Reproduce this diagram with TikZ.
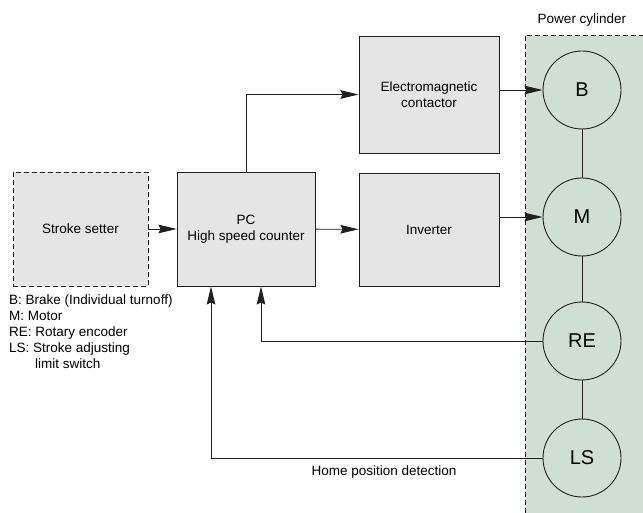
\documentclass[tikz,border=0pt]{standalone}
\usepackage{fontspec}
\setmainfont{Liberation Sans}
\usepackage{tikz}
\usetikzlibrary{arrows.meta,positioning}
\definecolor{cajagris}{RGB}{229,229,229}
\definecolor{cilverde}{RGB}{207,223,210}
\definecolor{trazo}{RGB}{35,30,30}
\tikzset{
  caja/.style={draw=trazo,fill=cajagris,line width=0.9pt,align=center,inner sep=0pt,
    font=\fontsize{13.5}{16}\selectfont},
  cajapunt/.style={caja,dashed,dash pattern=on 5pt off 3pt},
  circulo/.style={circle,draw=trazo,line width=0.9pt,minimum size=78pt,inner sep=0pt,
    font=\fontsize{20}{23}\selectfont},
  texto/.style={inner sep=0pt,font=\fontsize{13.5}{16}\selectfont},
  flecha/.style={-{Stealth[length=18pt,width=8.5pt,inset=2pt]},draw=trazo,line width=0.9pt},
  linea/.style={draw=trazo,line width=0.9pt}
}

\begin{document}
\begin{tikzpicture}[x=1pt,y=-1pt]
\useasboundingbox (0,0) rectangle (643,513);
% zona del cilindro
\fill[cilverde] (525,35) rectangle (643,513);
\draw[linea,dash pattern=on 5pt off 3pt] (525,513)--(525,35)--(643,35);
\node[texto] (titulo) at (582,20) {Power cylinder};
% bloques
\node[cajapunt,minimum width=135pt,minimum height=114pt] (setter) at (80.5,229) {Stroke setter};
\node[caja,minimum width=138pt,minimum height=114pt] (pc) at (246,229) {PC\\High speed counter};
\node[caja,minimum width=140pt,minimum height=117pt] (emc) at (429,94.5) {Electromagnetic\\contactor};
\node[caja,minimum width=140pt,minimum height=113pt] (inv) at (429,229.5) {Inverter};
% cilindro
\node[circulo] (b) at (582,90) {B};
\node[circulo] (m) at (582,217) {M};
\node[circulo] (re) at (582,341) {RE};
\node[circulo] (ls) at (582,458) {LS};
\draw[linea] (b)--(m);
\draw[linea] (m)--(re);
\draw[linea] (re)--(ls);
% conexiones
\draw[flecha] (setter)--(pc);
\draw[flecha] (pc.north)|-(emc.west);
\draw[flecha] (pc)--(inv);
\draw[flecha] (emc.east |- b)--(b.west);
\draw[flecha] (inv.east |- m)--(m.west);
\draw[flecha] (re.west)-|([xshift=15pt]pc.south);
\draw[flecha] (ls.west)-|([xshift=-35pt]pc.south);
\node[texto] (home) at (384,472) {Home position detection};
% leyenda
\node[texto,anchor=north west,align=left,font=\fontsize{13.5}{15.8}\selectfont] (leyenda) at (9,295)
  {B: Brake (Individual turnoff)\\M: Motor\\RE: Rotary encoder\\LS: Stroke adjusting\\\hspace*{26pt}limit switch};
\end{tikzpicture}
\end{document}
